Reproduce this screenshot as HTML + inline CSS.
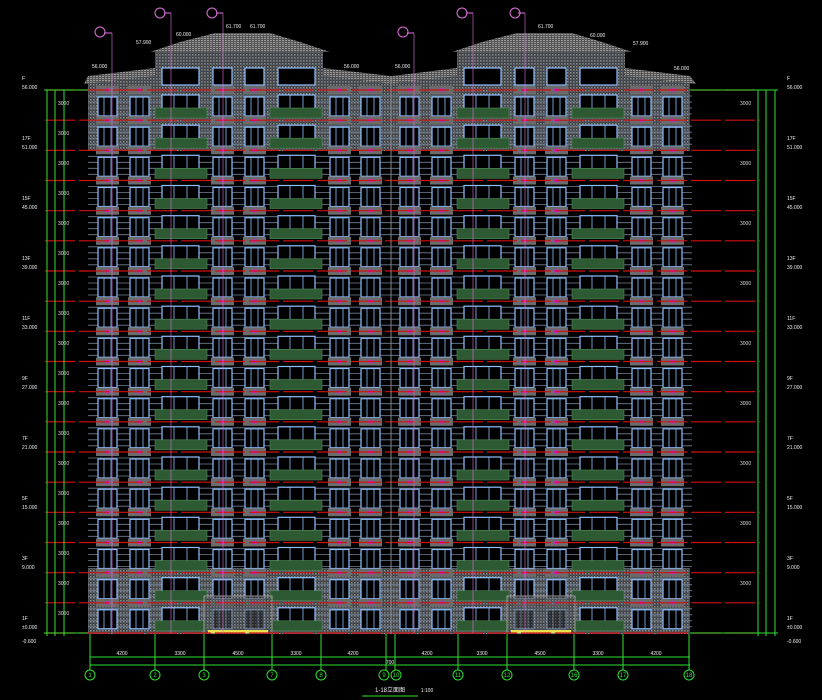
<!DOCTYPE html>
<html><head><meta charset="utf-8"><style>
html,body{margin:0;padding:0;background:#000;}
svg{display:block;}
text{font-family:"Liberation Sans",sans-serif;}
</style></head><body>
<svg width="822" height="700" viewBox="0 0 822 700" xmlns="http://www.w3.org/2000/svg">
<defs>
<pattern id="hatch" width="3" height="3" patternUnits="userSpaceOnUse">
<rect width="3" height="3" fill="#3a3d42"/>
<rect x="0" y="0" width="1.5" height="1.5" fill="#8a8a8a"/>
<rect x="1.5" y="1.5" width="1" height="1" fill="#6f7a86"/>
</pattern>
<pattern id="roofh" width="3" height="2" patternUnits="userSpaceOnUse">
<rect width="3" height="2" fill="#555"/>
<rect width="2" height="1" fill="#999"/>
</pattern>
<g id="fl">
<g stroke="#6f8196" stroke-width="0.8">
<line x1="0" y1="6" x2="302" y2="6"/><line x1="0" y1="12" x2="302" y2="12"/>
<line x1="0" y1="18" x2="302" y2="18"/><line x1="0" y1="24" x2="302" y2="24"/>
</g>
<g fill="#6b6b6b">
<rect x="8" y="-4" width="23" height="8"/><rect x="40" y="-4" width="23" height="8"/>
<rect x="123" y="-4" width="23" height="8"/><rect x="155" y="-4" width="23" height="8"/>
<rect x="240" y="-4" width="23" height="8"/><rect x="271" y="-4" width="23" height="8"/>
</g>
<g fill="#d020d0">
<ellipse cx="19.5" cy="0" rx="3" ry="1.6"/><ellipse cx="51.5" cy="0" rx="3" ry="1.6"/>
<ellipse cx="134.5" cy="0" rx="3" ry="1.6"/><ellipse cx="166.5" cy="0" rx="3" ry="1.6"/>
<ellipse cx="251.5" cy="0" rx="3" ry="1.6"/><ellipse cx="282.5" cy="0" rx="3" ry="1.6"/>
</g>
<g fill="#000" stroke="#8fc0ff" stroke-width="1.2">
<rect x="10" y="7" width="19" height="19"/><rect x="42" y="7" width="19" height="19"/>
<rect x="125" y="7" width="19" height="19"/><rect x="157" y="7" width="19" height="19"/>
<rect x="242" y="7" width="19" height="19"/><rect x="273" y="7" width="19" height="19"/>
<rect x="74" y="5" width="37" height="15"/><rect x="190" y="5" width="37" height="15"/>
</g>
<g stroke="#8fc0ff" stroke-width="0.8">
<line x1="16" y1="7" x2="16" y2="26"/><line x1="23" y1="7" x2="23" y2="26"/>
<line x1="48" y1="7" x2="48" y2="26"/><line x1="55" y1="7" x2="55" y2="26"/>
<line x1="131" y1="7" x2="131" y2="26"/><line x1="138" y1="7" x2="138" y2="26"/>
<line x1="163" y1="7" x2="163" y2="26"/><line x1="170" y1="7" x2="170" y2="26"/>
<line x1="248" y1="7" x2="248" y2="26"/><line x1="255" y1="7" x2="255" y2="26"/>
<line x1="279" y1="7" x2="279" y2="26"/><line x1="286" y1="7" x2="286" y2="26"/>
<line x1="86" y1="5" x2="86" y2="20"/><line x1="99" y1="5" x2="99" y2="20"/>
<line x1="202" y1="5" x2="202" y2="20"/><line x1="215" y1="5" x2="215" y2="20"/>
</g>
<g fill="#2d5a33" stroke="#4f8a55" stroke-width="0.6">
<rect x="67" y="18" width="52" height="10"/><rect x="182" y="18" width="52" height="10"/>
</g>
</g>
</defs>

<!-- top hatched region & bottom -->
<rect x="88" y="76" width="602" height="75" fill="url(#hatch)"/>
<rect x="88" y="568" width="602" height="66" fill="url(#hatch)"/>
<!-- penthouses -->
<rect x="155" y="50" width="168" height="30" fill="url(#hatch)"/>
<rect x="457" y="50" width="168" height="30" fill="url(#hatch)"/>
<polygon points="150,52 330,52 300,42 270,33 215,33 180,42" fill="url(#roofh)"/>
<polygon points="452,52 632,52 602,42 572,33 517,33 482,42" fill="url(#roofh)"/>
<polygon points="84,84 155,76 155,68 88,76" fill="url(#roofh)"/>
<polygon points="323,68 323,76 395,84 390,76" fill="url(#roofh)"/>
<polygon points="386,84 457,76 457,68 392,76" fill="url(#roofh)"/>
<polygon points="625,68 625,76 696,84 690,76" fill="url(#roofh)"/>
<!-- penthouse windows -->
<g fill="#000" stroke="#8fc0ff" stroke-width="1.2">
<rect x="162" y="68" width="37" height="17"/><rect x="213" y="68" width="19" height="17"/><rect x="245" y="68" width="19" height="17"/><rect x="278" y="68" width="37" height="17"/>
<rect x="464" y="68" width="37" height="17"/><rect x="515" y="68" width="19" height="17"/><rect x="547" y="68" width="19" height="17"/><rect x="580" y="68" width="37" height="17"/>
</g>

<!-- floors -->
<g id="tower">
<use href="#fl" x="88" y="90"/><use href="#fl" x="88" y="120.2"/><use href="#fl" x="88" y="150.3"/>
<use href="#fl" x="88" y="180.5"/><use href="#fl" x="88" y="210.7"/><use href="#fl" x="88" y="240.8"/>
<use href="#fl" x="88" y="271"/><use href="#fl" x="88" y="301.2"/><use href="#fl" x="88" y="331.3"/>
<use href="#fl" x="88" y="361.5"/><use href="#fl" x="88" y="391.7"/><use href="#fl" x="88" y="421.8"/>
<use href="#fl" x="88" y="452"/><use href="#fl" x="88" y="482.2"/><use href="#fl" x="88" y="512.3"/>
<use href="#fl" x="88" y="542.5"/><use href="#fl" x="88" y="572.7"/><use href="#fl" x="88" y="602.8"/>
</g>
<use href="#tower" x="302" y="0"/>

<!-- entrances -->
<g fill="url(#hatch)" stroke="#999" stroke-width="1">
<rect x="204" y="596" width="68" height="37" fill-opacity="0.6"/>
<rect x="507" y="596" width="68" height="37" fill-opacity="0.6"/>
</g>
<rect x="208" y="630" width="60" height="3" fill="#e8e050"/>
<rect x="511" y="630" width="60" height="3" fill="#e8e050"/>

<!-- red floor lines -->
<g stroke="#d01010" stroke-width="1.2" stroke-dasharray="30,4">
<line x1="45" y1="90" x2="760" y2="90"/><line x1="45" y1="120.2" x2="760" y2="120.2"/><line x1="45" y1="150.3" x2="760" y2="150.3"/>
<line x1="45" y1="180.5" x2="760" y2="180.5"/><line x1="45" y1="210.7" x2="760" y2="210.7"/><line x1="45" y1="240.8" x2="760" y2="240.8"/>
<line x1="45" y1="271" x2="760" y2="271"/><line x1="45" y1="301.2" x2="760" y2="301.2"/><line x1="45" y1="331.3" x2="760" y2="331.3"/>
<line x1="45" y1="361.5" x2="760" y2="361.5"/><line x1="45" y1="391.7" x2="760" y2="391.7"/><line x1="45" y1="421.8" x2="760" y2="421.8"/>
<line x1="45" y1="452" x2="760" y2="452"/><line x1="45" y1="482.2" x2="760" y2="482.2"/><line x1="45" y1="512.3" x2="760" y2="512.3"/>
<line x1="45" y1="542.5" x2="760" y2="542.5"/><line x1="45" y1="572.7" x2="760" y2="572.7"/><line x1="45" y1="602.8" x2="760" y2="602.8"/>
<line x1="45" y1="633" x2="760" y2="633"/>
</g>
<line x1="391" y1="76" x2="391" y2="634" stroke="#888" stroke-width="1"/>

<!-- magenta leaders -->
<g stroke="#e070e0" stroke-width="1" fill="none">
<line x1="112" y1="33" x2="112" y2="633" stroke-opacity="0.6"/><polyline points="104,33 112,33"/>
<line x1="171" y1="13" x2="171" y2="633" stroke-opacity="0.6"/><polyline points="164,13 171,13"/>
<line x1="223" y1="13" x2="223" y2="633" stroke-opacity="0.6"/><polyline points="216,13 223,13"/>
<line x1="414" y1="33" x2="414" y2="633" stroke-opacity="0.6"/><polyline points="407,33 414,33"/>
<line x1="473" y1="13" x2="473" y2="633" stroke-opacity="0.6"/><polyline points="466,13 473,13"/>
<line x1="525" y1="13" x2="525" y2="633" stroke-opacity="0.6"/><polyline points="518,13 525,13"/>
<circle cx="100" cy="32" r="5"/><circle cx="160" cy="13" r="5"/><circle cx="212" cy="13" r="5"/>
<circle cx="403" cy="32" r="5"/><circle cx="462" cy="13" r="5"/><circle cx="515" cy="13" r="5"/>
</g>

<!-- left dims -->
<g stroke="#30e030" stroke-width="1">
<line x1="47" y1="90" x2="47" y2="636"/><line x1="55" y1="90" x2="55" y2="636"/><line x1="64" y1="90" x2="64" y2="636"/>
<line x1="758" y1="90" x2="758" y2="636"/><line x1="766" y1="90" x2="766" y2="636"/><line x1="775" y1="90" x2="775" y2="636"/>
<line x1="44" y1="90" x2="88" y2="90"/><line x1="690" y1="90" x2="778" y2="90"/>
<line x1="44" y1="633" x2="88" y2="633"/><line x1="690" y1="633" x2="778" y2="633"/>
</g>
<g fill="#ddd" font-size="5">
<text x="58" y="105">3000</text><text x="58" y="135">3000</text><text x="58" y="165">3000</text><text x="58" y="195">3000</text><text x="58" y="225">3000</text><text x="58" y="255">3000</text><text x="58" y="285">3000</text><text x="58" y="315">3000</text><text x="58" y="345">3000</text><text x="58" y="375">3000</text><text x="58" y="405">3000</text><text x="58" y="435">3000</text><text x="58" y="465">3000</text><text x="58" y="495">3000</text><text x="58" y="525">3000</text><text x="58" y="555">3000</text><text x="58" y="585">3000</text><text x="58" y="615">3000</text>
<text x="740" y="105">3000</text><text x="740" y="165">3000</text><text x="740" y="225">3000</text><text x="740" y="285">3000</text><text x="740" y="345">3000</text><text x="740" y="405">3000</text><text x="740" y="465">3000</text><text x="740" y="525">3000</text><text x="740" y="585">3000</text>
</g>
<g fill="#eee" font-size="5">
<text x="22" y="80">F</text><text x="22" y="89">56.000</text>
<text x="22" y="140">17F</text><text x="22" y="149">51.000</text>
<text x="22" y="200">15F</text><text x="22" y="209">45.000</text>
<text x="22" y="260">13F</text><text x="22" y="269">39.000</text>
<text x="22" y="320">11F</text><text x="22" y="329">33.000</text>
<text x="22" y="380">9F</text><text x="22" y="389">27.000</text>
<text x="22" y="440">7F</text><text x="22" y="449">21.000</text>
<text x="22" y="500">5F</text><text x="22" y="509">15.000</text>
<text x="22" y="560">3F</text><text x="22" y="569">9.000</text>
<text x="22" y="620">1F</text><text x="22" y="629">±0.000</text>
<text x="22" y="643">-0.600</text>
<text x="787" y="80">F</text><text x="787" y="89">56.000</text>
<text x="787" y="140">17F</text><text x="787" y="149">51.000</text>
<text x="787" y="200">15F</text><text x="787" y="209">45.000</text>
<text x="787" y="260">13F</text><text x="787" y="269">39.000</text>
<text x="787" y="320">11F</text><text x="787" y="329">33.000</text>
<text x="787" y="380">9F</text><text x="787" y="389">27.000</text>
<text x="787" y="440">7F</text><text x="787" y="449">21.000</text>
<text x="787" y="500">5F</text><text x="787" y="509">15.000</text>
<text x="787" y="560">3F</text><text x="787" y="569">9.000</text>
<text x="787" y="620">1F</text><text x="787" y="629">±0.000</text>
<text x="787" y="643">-0.600</text>
<text x="92" y="68">56.000</text><text x="136" y="44">57.900</text><text x="176" y="36">60.000</text><text x="226" y="28">61.700</text><text x="250" y="28">61.700</text><text x="344" y="68">56.000</text>
<text x="395" y="68">56.000</text><text x="538" y="28">61.700</text><text x="590" y="37">60.000</text><text x="633" y="45">57.900</text><text x="674" y="70">56.000</text>
</g>

<!-- axis lines -->
<g stroke="#30e030" stroke-width="1" fill="none">
<line x1="90" y1="657" x2="690" y2="657"/><line x1="90" y1="665" x2="690" y2="665"/>
<line x1="90" y1="634" x2="90" y2="670"/><line x1="155" y1="634" x2="155" y2="670"/><line x1="204" y1="634" x2="204" y2="670"/><line x1="272" y1="634" x2="272" y2="670"/><line x1="321" y1="634" x2="321" y2="670"/><line x1="386" y1="634" x2="386" y2="670"/><line x1="395" y1="634" x2="395" y2="670"/><line x1="458" y1="634" x2="458" y2="670"/><line x1="507" y1="634" x2="507" y2="670"/><line x1="574" y1="634" x2="574" y2="670"/><line x1="623" y1="634" x2="623" y2="670"/><line x1="689" y1="634" x2="689" y2="670"/>
<circle cx="90" cy="675" r="5"/><circle cx="155" cy="675" r="5"/><circle cx="204" cy="675" r="5"/><circle cx="272" cy="675" r="5"/><circle cx="321" cy="675" r="5"/><circle cx="384" cy="675" r="5"/><circle cx="396" cy="675" r="5"/><circle cx="458" cy="675" r="5"/><circle cx="507" cy="675" r="5"/><circle cx="574" cy="675" r="5"/><circle cx="623" cy="675" r="5"/><circle cx="689" cy="675" r="5"/>
<line x1="362" y1="696" x2="418" y2="696"/>
</g>
<g fill="#30e030" font-size="6" text-anchor="middle">
<text x="90" y="677">1</text><text x="155" y="677">2</text><text x="204" y="677">3</text><text x="272" y="677">7</text><text x="321" y="677">8</text><text x="384" y="677">9</text><text x="396" y="677">10</text><text x="458" y="677">11</text><text x="507" y="677">12</text><text x="574" y="677">16</text><text x="623" y="677">17</text><text x="689" y="677">18</text>
</g>
<g fill="#eee" font-size="5" text-anchor="middle">
<text x="122" y="655">4200</text><text x="180" y="655">3300</text><text x="238" y="655">4500</text><text x="296" y="655">3300</text><text x="353" y="655">4200</text><text x="390" y="664">700</text><text x="427" y="655">4200</text><text x="482" y="655">3300</text><text x="540" y="655">4500</text><text x="598" y="655">3300</text><text x="656" y="655">4200</text>
<text x="390" y="692" font-size="6">1-18立面图</text><text x="427" y="692">1:100</text>
</g>
</svg>
</body></html>
